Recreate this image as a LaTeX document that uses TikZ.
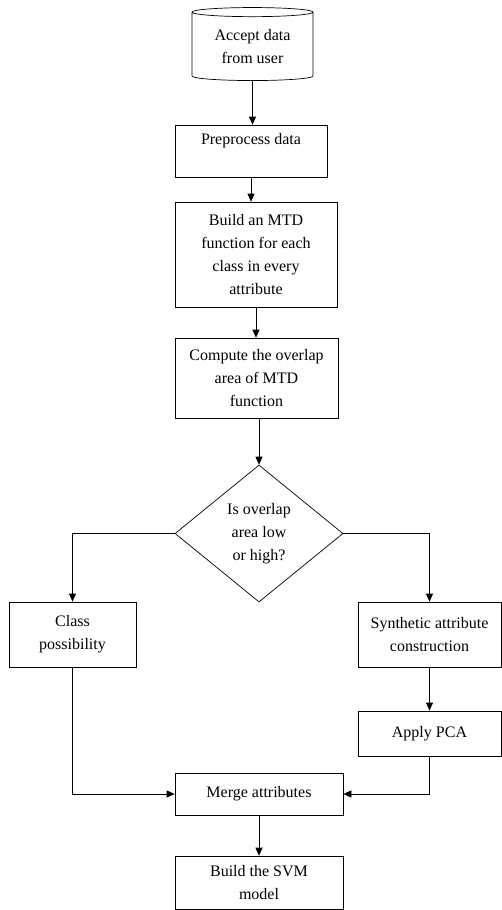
\documentclass[tikz,border=0pt]{standalone}
\usepackage{fontspec}
\setmainfont{Liberation Serif}
\usepackage{tikz}
\usetikzlibrary{shapes.geometric}
\usetikzlibrary{arrows.meta}

\begin{document}
\begin{tikzpicture}[
   x=1pt, y=-1pt,
   font=\fontsize{16}{23}\selectfont,
   stepbox/.style={
      draw,
      rectangle,
      line width=0.7pt,
      align=center,
      inner sep=0pt
   },
   flow/.style={
      -{Triangle[length=8pt,width=7pt]},
      line width=0.7pt
   }
]
   \useasboundingbox (0,0) rectangle (502,910);

   \node[
      draw,
      cylinder,
      shape border rotate=90,
      aspect=0.12,
      align=center,
      inner sep=0pt,
      line width=0.7pt,
      minimum width=121pt,
      minimum height=73pt
   ] (accept) at (252.5,46.5) {Accept data\\from user};

   \node[
      stepbox,
      minimum width=152pt,
      minimum height=52pt,
      text height=12pt,
      text depth=25pt
   ] (prep) at (251,151) {Preprocess data};

   \node[stepbox, minimum width=162pt, minimum height=105pt]
      (mtd) at (256,254.5) {Build an MTD\\function for each\\class in every\\attribute};

   \node[stepbox, minimum width=163pt, minimum height=80pt]
      (overlap) at (256.5,378) {Compute the overlap\\area of MTD\\function};

   \node[
      draw,
      diamond,
      align=center,
      inner sep=0pt,
      line width=0.7pt,
      minimum width=168pt,
      minimum height=137pt
   ] (decide) at (259,533.5) {Is overlap\\area low\\or high?};

   \node[stepbox, minimum width=127pt, minimum height=65pt]
      (cls) at (72.5,634.5) {Class\\possibility};

   \node[stepbox, minimum width=143pt, minimum height=65pt]
      (synth) at (429.5,634.5) {Synthetic attribute\\construction};

   \node[stepbox, minimum width=143pt, minimum height=45pt]
      (pca) at (429.5,733.5) {Apply PCA};

   \node[stepbox, minimum width=168pt, minimum height=42pt]
      (merge) at (259,794) {Merge attributes};

   \node[stepbox, minimum width=168pt, minimum height=53pt]
      (svm) at (259,882.5) {Build the SVM\\model};

   \draw[flow] (accept.south) -- (accept.south |- prep.north);
   \draw[flow] (prep.south) -- (prep.south |- mtd.north);
   \draw[flow] (mtd.south) -- (mtd.south |- overlap.north);
   \draw[flow] (decide.north |- overlap.south) -- (decide.north);
   \draw[flow] (decide.west) -| (cls.north);
   \draw[flow] (decide.east) -| (synth.north);
   \draw[flow] (synth.south) -- (pca.north);
   \draw[flow] (cls.south) |- (merge.west);
   \draw[flow] (pca.south) |- (merge.east);
   \draw[flow] (merge.south) -- (svm.north);

\end{tikzpicture}
\end{document}
